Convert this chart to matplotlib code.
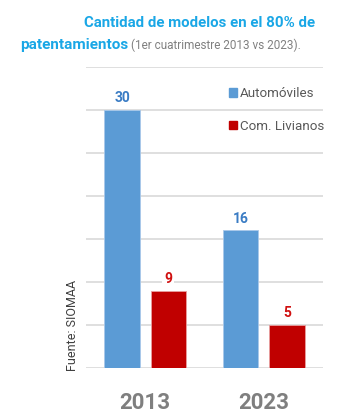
import matplotlib.pyplot as plt
import numpy as np
from matplotlib.patches import Patch

# Datos
years = ["2013", "2023"]
autos = [30, 16]
livianos = [9, 5]
series_names = ["Automóviles", "Com. Livianos"]

blue = "#5B9BD5"
red = "#C00000"

plt.rcParams['font.family'] = ['Roboto', 'DejaVu Sans']

fig = plt.figure(figsize=(3.52, 4.13), dpi=100)
ax = fig.add_axes([0.2443, 0.109, 0.673, 0.7288])

x = np.arange(len(years))
w = 0.30
off = 0.195
b1 = ax.bar(x - off, autos, w, color=blue, edgecolor="#a9c8ea", linewidth=0.6, zorder=3)
b2 = ax.bar(x + off, livianos, w, color=red, edgecolor="#e8a0a0", linewidth=0.6, zorder=3)

# Etiquetas de valor
for xi, v in zip(x - off, autos):
    ax.text(xi, v + 0.55, str(v), ha="center", va="bottom", fontsize=10,
            fontweight="bold", color="#3a7cc4", zorder=4,
            bbox=dict(facecolor="white", edgecolor="none", pad=1.5))
for xi, v in zip(x + off, livianos):
    ax.text(xi, v + 0.55, str(v), ha="center", va="bottom", fontsize=10,
            fontweight="bold", color="#d01010", zorder=4,
            bbox=dict(facecolor="white", edgecolor="none", pad=1.5))

ax.set_xlim(-0.5, 1.5)
ax.set_ylim(0, 35)
ax.set_yticks(np.arange(0, 36, 5))
ax.yaxis.grid(True, color="#d9d9d9", linewidth=1.2, zorder=0)
ax.set_yticklabels([])
ax.tick_params(axis="y", length=0)
ax.tick_params(axis="x", length=0, pad=17)
ax.set_xticks(x)
ax.set_xticklabels(years, fontsize=16, fontweight="bold", color="#7f7f7f")
for s in ax.spines.values():
    s.set_visible(False)

handles = [Patch(color=blue), Patch(color=red)]
ax.legend(handles, series_names, loc="upper left", bbox_to_anchor=(0.58, 0.95),
          frameon=False, fontsize=9.6, labelcolor="#595959", handlelength=0.6,
          handleheight=0.6, handletextpad=0.25, labelspacing=1.45,
          borderaxespad=0)

# Titulo
fig.text(0.895, 0.944, "Cantidad de modelos en el 80% de", ha="right", va="center",
         fontsize=10.8, fontweight="bold", color="#1aa7e6")
t1 = fig.text(0.057, 0.892, "patentamientos", ha="left", va="center",
              fontsize=11, fontweight="bold", color="#1aa7e6")
fig.canvas.draw()
bb = t1.get_window_extent()
fig.text(bb.x1 / fig.bbox.width + 0.008, 0.890, "(1er cuatrimestre 2013 vs 2023).",
         ha="left", va="center", fontsize=8.5, color="#808080")

fig.text(0.207, 0.213, "Fuente: SIOMAA", rotation=90, ha="center", va="center",
         fontsize=9, color="#404040")

fig.savefig("out.png", dpi=100)
